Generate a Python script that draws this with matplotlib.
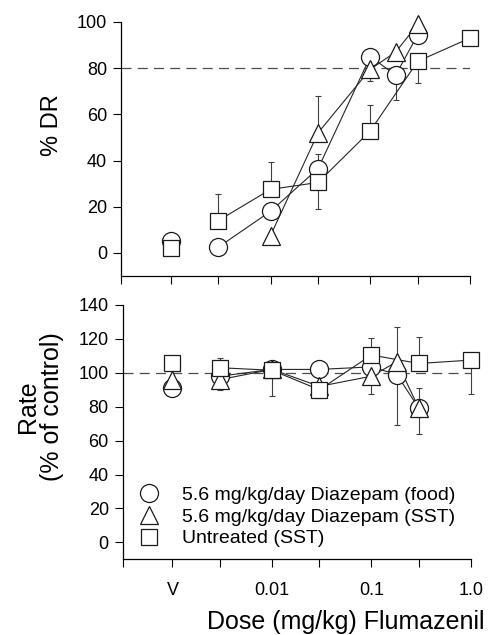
import numpy as np
import matplotlib.pyplot as plt

plt.rcParams['font.family'] = ['Liberation Sans', 'DejaVu Sans']

# Doses (V = vehicle, placé à 0.001 sur l'axe log)
dose_food = [0.001, 0.003, 0.01, 0.03, 0.1, 0.18, 0.3]
dose_sst_top = [0.01, 0.03, 0.1, 0.18, 0.3]
dose_sst = [0.001, 0.003, 0.01, 0.03, 0.1, 0.18, 0.3]
dose_untr = [0.001, 0.003, 0.01, 0.03, 0.1, 0.3, 1.0]

# Panneau du haut : % DR
dr_food = [5, 2.5, 18, 36.5, 85, 77, 94.5]
dr_food_lo = [0, 0, 0, 0, 0, 11, 0]
dr_food_hi = [0, 0, 0, 6.5, 0, 0, 0]
dr_sst = [7.5, 52, 79.5, 87, 99]
dr_sst_lo = [0, 0, 5, 0, 0]
dr_sst_hi = [0, 16, 0, 0, 0]
dr_untr = [2, 14, 27.5, 30.5, 52.8, 83, 93]
dr_untr_lo = [0, 0, 0, 11.5, 0, 9.5, 0]
dr_untr_hi = [0, 11.5, 12, 0, 11.2, 0, 0]

# Panneau du bas : taux (% du contrôle)
rate_food = [91, 98, 102, 102, 103.5, 99, 79]
rate_food_lo = [0, 0, 0, 0, 0, 30, 0]
rate_food_hi = [0, 0, 0, 0, 0, 0, 12]
rate_sst = [96, 96, 102, 92, 98, 106.5, 79]
rate_sst_lo = [0, 6, 0, 0, 10.5, 0, 15]
rate_sst_hi = [0, 0, 0, 0, 0, 20.5, 0]
rate_untr = [105.5, 103, 101.5, 90, 110.5, 105.5, 107.5]
rate_untr_lo = [0, 0, 15, 5, 0, 0, 20]
rate_untr_hi = [4.5, 5.5, 0, 0, 10, 15.5, 0]

labels = ['5.6 mg/kg/day Diazepam (food)', '5.6 mg/kg/day Diazepam (SST)', 'Untreated (SST)']
markers = ['o', '^', 's']
msizes = [13, 13, 11]

xticks = [10**-3.5, 0.001, 0.003, 0.01, 0.03, 0.1, 0.3, 1.0]
xticklabels = ['', 'V', '', '0.01', '', '0.1', '', '1.0']

fig = plt.figure(figsize=(4.89, 6.35), dpi=100)
ax1 = fig.add_axes([0.2474, 0.5654, 0.7136, 0.400])
ax2 = fig.add_axes([0.2510, 0.1192, 0.7120, 0.4005])


def serie(ax, x, y, lo, hi, m, ms, label=None, vehicule=True):
    x = np.array(x)
    y = np.array(y)
    ax.errorbar(x, y, yerr=[lo, hi], fmt='none', ecolor='0.25', elinewidth=0.8,
                capsize=2.5, capthick=0.8, zorder=2, clip_on=False)
    if vehicule:
        ax.plot(x[1:], y[1:], '-', color='0.15', lw=0.8, zorder=3, clip_on=False)
    else:
        ax.plot(x, y, '-', color='0.15', lw=0.8, zorder=3, clip_on=False)
    ax.plot(x, y, linestyle='none', marker=m, ms=ms, mfc='white', mec='0.1',
            mew=0.9, zorder=4, clip_on=False, label=label)


def style(ax, ymin, ymax, yticks):
    ax.set_xscale('log')
    ax.set_xlim(10**-3.5, 1.0)
    ax.set_ylim(ymin, ymax)
    ax.set_xticks(xticks)
    ax.set_xticks([], minor=True)
    ax.set_yticks(yticks)
    for s in ['top', 'right']:
        ax.spines[s].set_visible(False)
    for s in ['left', 'bottom']:
        ax.spines[s].set_linewidth(0.9)
    ax.spines['left'].set_bounds(ymin, yticks[-1])
    ax.tick_params(direction='out', length=6, width=0.8, labelsize=13, pad=4)


# Haut
ax1.axhline(80, color='0.3', lw=0.9, ls=(0, (8, 5)), zorder=1)
serie(ax1, dose_food, dr_food, dr_food_lo, dr_food_hi, markers[0], msizes[0])
serie(ax1, dose_sst_top, dr_sst, dr_sst_lo, dr_sst_hi, markers[1], msizes[1], vehicule=False)
serie(ax1, dose_untr, dr_untr, dr_untr_lo, dr_untr_hi, markers[2], msizes[2])
style(ax1, -10, 100, [0, 20, 40, 60, 80, 100])
ax1.set_xticklabels([])
ax1.set_ylabel('% DR', fontsize=17)
ax1.yaxis.set_label_coords(-0.165, 0.594)

# Bas
ax2.axhline(100, color='0.3', lw=0.9, ls=(0, (8, 5)), zorder=1)
serie(ax2, dose_food, rate_food, rate_food_lo, rate_food_hi, markers[0], msizes[0], labels[0])
serie(ax2, dose_sst, rate_sst, rate_sst_lo, rate_sst_hi, markers[1], msizes[1], labels[1])
serie(ax2, dose_untr, rate_untr, rate_untr_lo, rate_untr_hi, markers[2], msizes[2], labels[2])
style(ax2, -10, 140, [0, 20, 40, 60, 80, 100, 120, 140])
ax2.set_xticklabels(xticklabels)
ax2.tick_params(axis='x', pad=10)
ax2.set_ylabel('Rate\n(% of control)', fontsize=18, linespacing=1.0)
ax2.yaxis.set_label_coords(-0.168, 0.599)

ax2.legend(loc='lower left', bbox_to_anchor=(0.02, 0.016), frameon=False, fontsize=14,
           handletextpad=1.1, labelspacing=0.22, borderaxespad=0, handlelength=1.2)

fig.text(0.99, 0.01, 'Dose (mg/kg) Flumazenil', fontsize=18, ha='right', va='baseline')

fig.savefig('out.png', dpi=100)
